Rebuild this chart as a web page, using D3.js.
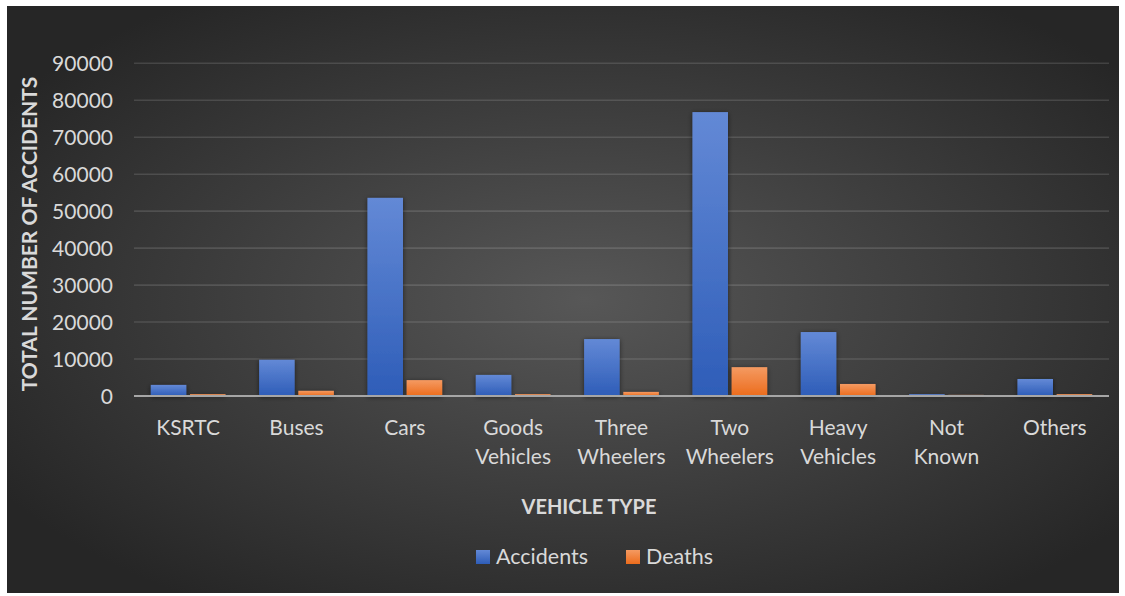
<!DOCTYPE html>
<html>
<head>
<meta charset="utf-8">
<script src="https://cdn.jsdelivr.net/npm/d3@7"></script>
<style>
  html, body { margin: 0; padding: 0; background: #ffffff; }
  svg { display: block; }
</style>
</head>
<body>
<svg id="chart" width="1125" height="596"></svg>
<script>
const categories = ["KSRTC", "Buses", "Cars", "Goods Vehicles", "Three Wheelers", "Two Wheelers", "Heavy Vehicles", "Not Known", "Others"];
const seriesNames = ["Accidents", "Deaths"];
const accidents = [3000, 9800, 53600, 5700, 15400, 76800, 17300, 500, 4600];
const deaths = [500, 1400, 4300, 500, 1100, 7800, 3250, 300, 500];
const yTicks = [0, 10000, 20000, 30000, 40000, 50000, 60000, 70000, 80000, 90000];
const yTitle = "TOTAL NUMBER OF ACCIDENTS";
const xTitle = "VEHICLE TYPE";

const svg = d3.select("#chart");
const font = "Lato, 'Open Sans', sans-serif";
const textColor = "#d9d9d9";

const defs = svg.append("defs");
const bg = defs.append("radialGradient").attr("id", "bg")
  .attr("cx", "0.52").attr("cy", "0.5").attr("r", "0.62");
bg.append("stop").attr("offset", "0%").attr("stop-color", "#575757");
bg.append("stop").attr("offset", "100%").attr("stop-color", "#262626");

const gA = defs.append("linearGradient").attr("id", "gA").attr("x1", 0).attr("y1", 0).attr("x2", 0).attr("y2", 1);
gA.append("stop").attr("offset", "0%").attr("stop-color", "#6389d6");
gA.append("stop").attr("offset", "100%").attr("stop-color", "#2e5db8");
const gD = defs.append("linearGradient").attr("id", "gD").attr("x1", 0).attr("y1", 0).attr("x2", 0).attr("y2", 1);
gD.append("stop").attr("offset", "0%").attr("stop-color", "#f49a62");
gD.append("stop").attr("offset", "100%").attr("stop-color", "#ec6c1c");

const sh = defs.append("filter").attr("id", "shadow").attr("x", "-30%").attr("y", "-10%").attr("width", "160%").attr("height", "130%");
sh.append("feDropShadow").attr("dx", 0).attr("dy", 1).attr("stdDeviation", 2.5)
  .attr("flood-color", "#000").attr("flood-opacity", 0.55);

// chart background
svg.append("rect").attr("x", 7).attr("y", 6).attr("width", 1112).attr("height", 587).attr("fill", "url(#bg)");

const plot = { left: 134, right: 1109, top: 63.3, bottom: 396 };

const y = d3.scaleLinear().domain([0, 90000]).range([plot.bottom, plot.top]);
const x0 = d3.scaleBand().domain(categories).range([plot.left, plot.right]).paddingInner(0).paddingOuter(0);
const bw = x0.bandwidth();
const x1 = d3.scaleBand().domain(seriesNames).range([bw * 0.155, bw * 0.845]).paddingInner(0.094).paddingOuter(0);

// gridlines
svg.append("g").selectAll("line").data(yTicks.filter(d => d > 0)).join("line")
  .attr("x1", plot.left).attr("x2", plot.right)
  .attr("y1", d => y(d)).attr("y2", d => y(d))
  .attr("stroke", "rgba(255,255,255,0.13)").attr("stroke-width", 1.6);

// y tick labels via axis
const yAxis = svg.append("g").attr("transform", `translate(${plot.left - 21},0)`)
  .call(d3.axisLeft(y).tickValues(yTicks).tickFormat(d3.format("d")).tickSize(0).tickPadding(0));
yAxis.select(".domain").remove();
yAxis.selectAll("text").attr("fill", textColor).attr("font-family", font).attr("font-size", 21).attr("dy", "0.35em");

// bars
const series = [
  { name: "Accidents", values: accidents, fill: "url(#gA)" },
  { name: "Deaths", values: deaths, fill: "url(#gD)" }
];
const barG = svg.append("g").attr("filter", "url(#shadow)");
series.forEach(s => {
  barG.append("g").selectAll("rect").data(categories).join("rect")
    .attr("x", (c) => x0(c) + x1(s.name))
    .attr("width", x1.bandwidth())
    .attr("y", (c, i) => y(s.values[i]))
    .attr("height", (c, i) => y(0) - y(s.values[i]))
    .attr("fill", s.fill);
});

// baseline
svg.append("line").attr("x1", plot.left).attr("x2", plot.right)
  .attr("y1", y(0)).attr("y2", y(0))
  .attr("stroke", "#a6a6a6").attr("stroke-width", 2);

// x category labels
const xl = svg.append("g").selectAll("text").data(categories).join("text")
  .attr("x", c => x0(c) + bw / 2)
  .attr("y", 435)
  .attr("text-anchor", "middle")
  .attr("fill", textColor).attr("font-family", font).attr("font-size", 21);
xl.each(function(c) {
  const words = c.split(" ");
  const t = d3.select(this);
  words.forEach((w, i) => {
    t.append("tspan").attr("x", x0(c) + bw / 2).attr("dy", i === 0 ? 0 : 29).text(w);
  });
});

// axis titles
svg.append("text").attr("x", 589).attr("y", 514).attr("text-anchor", "middle")
  .attr("fill", textColor).attr("font-family", font).attr("font-weight", "bold").attr("font-size", 20)
  .text(xTitle);
svg.append("text").attr("transform", `translate(37,234) rotate(-90)`).attr("text-anchor", "middle")
  .attr("fill", textColor).attr("font-family", font).attr("font-weight", "bold").attr("font-size", 21)
  .text(yTitle);

// legend
const legend = svg.append("g");
const legX = [476, 626];
series.forEach((s, i) => {
  legend.append("rect").attr("x", legX[i]).attr("y", 550).attr("width", 14).attr("height", 14).attr("fill", s.fill);
  legend.append("text").attr("x", legX[i] + 20).attr("y", 564)
    .attr("fill", textColor).attr("font-family", font).attr("font-size", 21.5).text(s.name);
});
</script>
</body>
</html>
